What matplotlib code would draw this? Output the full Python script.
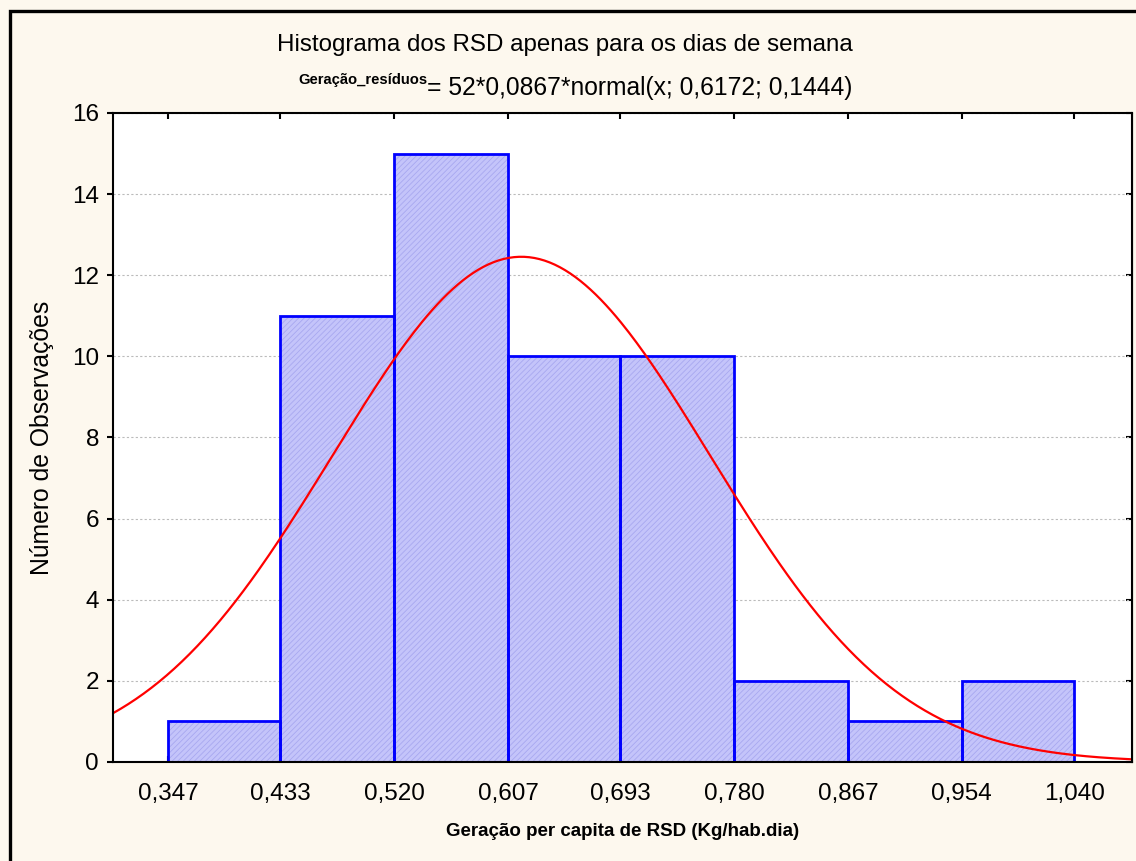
import matplotlib.pyplot as plt
import matplotlib.patches as patches
import numpy as np

plt.rcParams['font.family'] = ['Liberation Sans', 'DejaVu Sans']
plt.rcParams['hatch.linewidth'] = 0.6

# histogram data
bin_edges = [0.347, 0.433, 0.520, 0.607, 0.693, 0.780, 0.867, 0.954, 1.040]
counts = [1, 11, 15, 10, 10, 2, 1, 2]
tick_labels = ['0,347', '0,433', '0,520', '0,607', '0,693', '0,780', '0,867', '0,954', '1,040']

# fitted normal curve parameters
n_obs = 52
bin_w = 0.0867
mu = 0.6172
sigma = 0.1444

bg = '#FDF8EE'
fig = plt.figure(figsize=(11.36, 8.61), dpi=100, facecolor=bg)
ax = fig.add_axes([113/1136, 1 - 762/861, (1132-113)/1136, (762-113)/861])
ax.set_facecolor('white')

edges = np.array(bin_edges)
lefts = edges[:-1]
widths = np.diff(edges)

# hatched fill then blue outline
ax.bar(lefts, counts, width=widths, align='edge', color='#C4C4FA',
       edgecolor='#A8A8F0', linewidth=0, hatch='//////', zorder=2)
ax.bar(lefts, counts, width=widths, align='edge', fill=False,
       edgecolor='#0000FF', linewidth=2, zorder=3)

half = (edges[-1] - edges[0]) / 8 / 2
xmin, xmax = edges[0] - half * 0.97, edges[-1] + half * 1.02
x = np.linspace(xmin, xmax, 400)
y = n_obs * bin_w * np.exp(-0.5 * ((x - mu) / sigma) ** 2) / (sigma * np.sqrt(2 * np.pi))
ax.plot(x, y, color='#FF0000', linewidth=1.6, zorder=4)

ax.set_xlim(xmin, xmax)
ax.set_ylim(0, 16)
ax.set_xticks(edges)
ax.set_xticklabels(tick_labels)
ax.set_yticks(np.arange(0, 17, 2))
ax.yaxis.grid(True, linestyle=(0, (2, 2)), color='#BBBBBB', linewidth=0.8, zorder=0)
ax.set_axisbelow(True)

for s in ax.spines.values():
    s.set_linewidth(1.5)
    s.set_zorder(5)

ax.tick_params(axis='x', direction='in', top=True, length=4, width=1.5,
               labelsize=17.5, pad=15)
ax.tick_params(axis='y', direction='out', length=4, width=1.5, labelsize=17.5, pad=6)
# right ticks inward
ax2 = ax.secondary_yaxis('right')
ax2.set_yticks(np.arange(0, 17, 2))
ax2.tick_params(direction='in', length=4, width=1.5, labelright=False)

ax.set_ylabel('Número de Observações', fontsize=17.8, labelpad=13)
ax.set_xlabel('Geração per capita de RSD (Kg/hab.dia)', fontsize=13.5,
              fontweight='bold', labelpad=13)

fig.text(565/1136, 1 - 45/861, 'Histograma dos RSD apenas para os dias de semana',
         ha='center', va='center', fontsize=17.4)
fig.text(427/1136, 1 - 80/861, 'Geração_resíduos', ha='right', va='center',
         fontsize=10.6, fontweight='bold')
fig.text(427/1136, 1 - 88/861, '= 52*0,0867*normal(x; 0,6172; 0,1444)',
         ha='left', va='center', fontsize=17.7)

# outer frame
fig.patches.append(patches.Rectangle((9.5/1136, -0.05), 1.2, 1 - 11/861 + 0.05,
                                     transform=fig.transFigure, fill=False,
                                     edgecolor='black', linewidth=2.4))

fig.savefig('out.png', dpi=100, facecolor=bg)
